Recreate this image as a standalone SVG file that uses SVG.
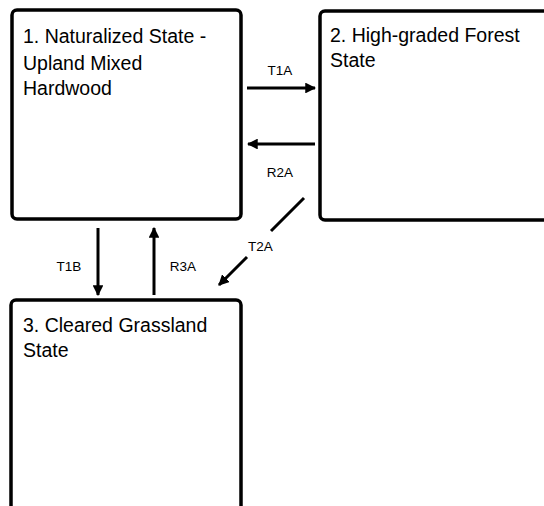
<svg xmlns="http://www.w3.org/2000/svg" width="544" height="506" viewBox="0 0 544 506">
<style>
.box{fill:#fff;stroke:#000;stroke-width:3.5}
.t{font-family:"Liberation Sans",Arial,sans-serif;font-size:19.5px;fill:#000}
.l{font-family:"Liberation Sans",Arial,sans-serif;font-size:13.5px;fill:#000;text-anchor:middle}
.c{stroke:#000;stroke-width:3;fill:none}
</style>
<defs>
<marker id="ah" viewBox="0 0 10 10" refX="9" refY="5" markerWidth="3.6" markerHeight="3.6" orient="auto" markerUnits="strokeWidth">
<path d="M0,0 L10,5 L0,10 z" fill="#000"/>
</marker>
</defs>
<g id="node1">
<rect class="box" x="12" y="10" width="229" height="209" rx="5"/>
<text class="t" x="23" y="43">1. Naturalized State -</text>
<text class="t" x="23" y="69.5">Upland Mixed</text>
<text class="t" x="23" y="94.5">Hardwood</text>
</g>
<g id="node2">
<rect class="box" x="320" y="11" width="240" height="209" rx="5"/>
<text class="t" x="330" y="42">2. High-graded Forest</text>
<text class="t" x="330" y="67">State</text>
</g>
<g id="node3">
<rect class="box" x="11" y="300" width="230" height="230" rx="5"/>
<text class="t" x="23" y="332">3. Cleared Grassland</text>
<text class="t" x="23" y="357">State</text>
</g>
<g id="connectors">
<line class="c" x1="247" y1="88" x2="315" y2="88" marker-end="url(#ah)"/>
<line class="c" x1="315" y1="144" x2="248" y2="144" marker-end="url(#ah)"/>
<line class="c" x1="304" y1="198" x2="271" y2="231"/>
<line class="c" x1="247" y1="257" x2="219" y2="285" marker-end="url(#ah)"/>
<line class="c" x1="98" y1="228" x2="98" y2="295" marker-end="url(#ah)"/>
<line class="c" x1="154" y1="295" x2="154" y2="228" marker-end="url(#ah)"/>
<text class="l" x="280" y="75">T1A</text>
<text class="l" x="280" y="177">R2A</text>
<text class="l" x="260.5" y="250.5">T2A</text>
<text class="l" x="69" y="270.5">T1B</text>
<text class="l" x="183" y="270.5">R3A</text>
</g>
</svg>
